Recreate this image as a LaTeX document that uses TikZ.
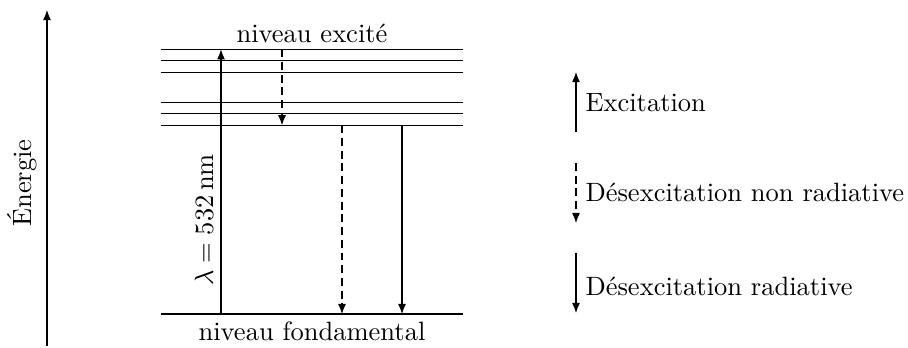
\documentclass[tikz,border=0pt]{standalone}
\usetikzlibrary{arrows.meta}
\begin{document}
\begin{tikzpicture}[x=0.3773pt,y=-0.3773pt,
  every path/.style={line width=0.4pt},
  tip/.style={-{Latex[length=3.8pt,width=3pt]}},
  dsh/.style={dash pattern=on 3pt off 1.8pt},
  lbl/.style={inner sep=0pt,anchor=west}]
\useasboundingbox (0,0) rectangle (908,347);
% energy axis
\coordinate (e0) at (47,346);
\coordinate (e1) at (47,10);
\draw[tip] (e0) -- (e1);
\node[rotate=90] (energie) at (22,183) {Énergie};
% levels
\foreach \n/\y in {a/49.3,b/60.7,c/72.3,d/102.3,e/113.7,f/125.3,g/314} {
  \coordinate (\n L) at (160.5,\y);
  \coordinate (\n R) at (463,\y);
  \draw (\n L) -- (\n R);
}
\node (exc) at (312,33) {niveau excité};
\node (fond) at (312,331) {niveau fondamental};
% transitions
\coordinate (x1b) at (221,314);
\coordinate (x1t) at (221,49.3);
\draw[tip] (x1b) -- (x1t);
\node[rotate=90] (lam) at (204,220) {$\lambda = 532\,\mathrm{nm}$};
\coordinate (x2t) at (282,49.3);
\coordinate (x2b) at (282,125.3);
\draw[tip,dsh] (x2t) -- (x2b);
\coordinate (x3t) at (342,125.3);
\coordinate (x3b) at (342,314);
\draw[tip,dsh] (x3t) -- (x3b);
\coordinate (x4t) at (402,125.3);
\coordinate (x4b) at (402,314);
\draw[tip] (x4t) -- (x4b);
% legend
\coordinate (l1b) at (576,132);
\coordinate (l1t) at (576,72);
\draw[tip] (l1b) -- (l1t);
\node[lbl] (t1) at (585,103) {Excitation};
\coordinate (l2t) at (576,163);
\coordinate (l2b) at (576,223);
\draw[tip,dsh] (l2t) -- (l2b);
\node[lbl] (t2) at (585,192) {Désexcitation non radiative};
\coordinate (l3t) at (576,253);
\coordinate (l3b) at (576,313);
\draw[tip] (l3t) -- (l3b);
\node[lbl] (t3) at (585,286) {Désexcitation radiative};
\end{tikzpicture}
\end{document}
